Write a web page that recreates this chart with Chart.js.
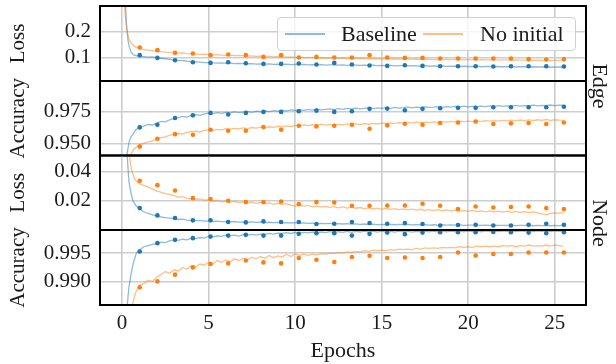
<!DOCTYPE html>
<html><head><meta charset="utf-8">
<script src="https://cdn.jsdelivr.net/npm/chart.js@4.4.0/dist/chart.umd.min.js"></script>
<style>
html,body{margin:0;padding:0;background:#fff;}
#wrap{position:relative;width:616px;height:364px;overflow:hidden;font-family:'Liberation Serif',serif;color:#1a1a1a;}
#wrap canvas{position:absolute;left:0;top:0;}
.side{position:absolute;font-size:22px;line-height:22px;white-space:nowrap;transform:translate(-50%,-50%) rotate(90deg);}
#legend{position:absolute;left:277px;top:17px;width:299px;height:34px;border:1px solid #d0d0d0;border-radius:4px;background:rgba(255,255,255,0.8);box-sizing:border-box;font-size:22px;}
#legend .ln{position:absolute;height:0;width:40px;top:15px;border-top:2px solid;}
#legend .tx{position:absolute;top:3px;line-height:26px;white-space:nowrap;}
</style></head>
<body><div id="wrap">
<canvas id="c1" width="616" height="364"></canvas>
<canvas id="c2" width="616" height="364"></canvas>
<canvas id="c3" width="616" height="364"></canvas>
<canvas id="c4" width="616" height="364"></canvas>
<div id="legend">
  <div class="ln" style="left:7px;border-color:#8fbbda"></div>
  <div class="tx" style="left:63px">Baseline</div>
  <div class="ln" style="left:145px;border-color:#ffbf87"></div>
  <div class="tx" style="left:202px">No initial</div>
</div>
<div class="side" style="left:600px;top:86px">Edge</div>
<div class="side" style="left:600px;top:223px">Node</div>
</div>
<script>
// ---------- data ----------
const TRAIN_X = [0.05,0.1,0.15,0.2,0.25,0.3,0.35,0.4,0.5,0.6,0.7,0.8,0.9,1.0,
1.25,1.5,1.75,2.0,2.25,2.5,2.75,3.0,3.25,3.5,3.75,4.0,4.25,4.5,4.75,5.0,
5.25,5.5,5.75,6.0,6.25,6.5,6.75,7.0,7.25,7.5,7.75,8.0,8.25,8.5,8.75,9.0,
9.25,9.5,9.75,10.0,10.25,10.5,10.75,11.0,11.25,11.5,11.75,12.0,12.25,12.5,12.75,13.0,
13.25,13.5,13.75,14.0,14.25,14.5,14.75,15.0,15.25,15.5,15.75,16.0,16.25,16.5,16.75,17.0,
17.25,17.5,17.75,18.0,18.25,18.5,18.75,19.0,19.25,19.5,19.75,20.0,20.25,20.5,20.75,21.0,
21.25,21.5,21.75,22.0,22.25,22.5,22.75,23.0,23.25,23.5,23.75,24.0,24.25,24.5,24.75,25.0,25.25,25.5];

const VAL_X = [1.02,2.04,3.06,4.09,5.11,6.13,7.15,8.17,9.19,10.21,11.23,12.26,13.28,14.3,15.32,
16.34,17.36,18.38,19.41,20.43,21.45,22.47,23.49,24.51,25.53];

const EPOCH_TICKS = [0,5,10,15,20,25];

// Edge loss
const EDGE_LOSS_BASE_TRAIN = [0.62,0.48,0.37,0.30,0.235,0.194,0.163,0.146,0.124,0.114,0.109,0.107,0.105,0.104,
0.103,0.101,0.102,0.099, 0.097,0.095,0.093,0.091, 0.089,0.088,0.086,0.084, 0.083,0.082,0.080,0.080,
0.079,0.078,0.079,0.077, 0.078,0.076,0.077,0.076, 0.075,0.076,0.074,0.075, 0.074,0.075,0.073,0.074,
0.073,0.074,0.072,0.073, 0.072,0.073,0.071,0.072, 0.071,0.072,0.070,0.071, 0.071,0.070,0.071,0.069,
0.070,0.070,0.069,0.070, 0.069,0.070,0.068,0.069, 0.068,0.069,0.067,0.068, 0.068,0.067,0.068,0.067,
0.066,0.068,0.066,0.067, 0.066,0.067,0.065,0.066, 0.066,0.065,0.066,0.065, 0.065,0.066,0.064,0.065,
0.065,0.064,0.065,0.064, 0.064,0.065,0.063,0.064, 0.064,0.063,0.064,0.063, 0.063,0.064,0.062,0.063,
0.063,0.062];
const EDGE_LOSS_NOINIT_TRAIN = [0.50,0.36,0.29,0.25,0.22,0.20,0.185,0.172,0.158,0.150,0.144,0.140,0.137,0.134,
0.131,0.128,0.127,0.124, 0.123,0.121,0.120,0.118, 0.117,0.118,0.115,0.114, 0.114,0.112,0.113,0.111,
0.110,0.111,0.109,0.108, 0.108,0.107,0.108,0.106, 0.105,0.106,0.104,0.105, 0.103,0.104,0.102,0.103,
0.102,0.101,0.102,0.100, 0.101,0.099,0.100,0.099, 0.098,0.099,0.097,0.098, 0.098,0.097,0.098,0.096,
0.097,0.096,0.097,0.096, 0.095,0.096,0.094,0.095, 0.095,0.094,0.095,0.094, 0.094,0.095,0.093,0.094,
0.093,0.094,0.093,0.092, 0.093,0.092,0.093,0.092, 0.092,0.093,0.091,0.092, 0.092,0.091,0.092,0.091,
0.091,0.092,0.090,0.091, 0.091,0.090,0.091,0.090, 0.090,0.091,0.089,0.090, 0.089,0.090,0.088,0.089,
0.089,0.090];
const EDGE_LOSS_BASE_VAL = [0.109,0.0984,0.0895,0.0816,0.079,0.0816,0.0777,0.075,0.075,0.0766,0.0727,0.079,0.0727,
0.0688,0.0672,0.070,0.0672,0.066,0.066,0.066,0.0648,0.066,0.066,0.066,0.0648];
const EDGE_LOSS_NOINIT_VAL = [0.139,0.1285,0.118,0.1156,0.109,0.1117,0.109,0.1023,0.109,0.100,0.1023,0.100,0.100,
0.109,0.100,0.0984,0.0984,0.096,0.096,0.096,0.096,0.096,0.0934,0.092,0.0934];

// Edge accuracy
const EDGE_ACC_BASE_TRAIN = [0.70,0.80,0.87,0.915,0.936,0.943,0.947,0.951,0.955,0.957,0.959,0.961,0.962,0.963,
0.9638,0.9651,0.9647,0.9662, 0.9676,0.9671,0.9688,0.9699, 0.9705,0.9714,0.9709,0.9722, 0.9728,0.9722,0.9735,0.9740,
0.9736,0.9744,0.9739,0.9746, 0.9743,0.9750,0.9745,0.9748, 0.9753,0.9747,0.9755,0.9751, 0.9757,0.9752,0.9760,0.9756,
0.9762,0.9758,0.9766,0.9761, 0.9767,0.9762,0.9770,0.9764, 0.9771,0.9766,0.9769,0.9774, 0.9768,0.9775,0.9770,0.9777,
0.9773,0.9779,0.9774,0.9778, 0.9782,0.9776,0.9781,0.9777, 0.9783,0.9778,0.9785,0.9780, 0.9784,0.9789,0.9782,0.9787,
0.9783,0.9790,0.9785,0.9788, 0.9792,0.9786,0.9791,0.9788, 0.9793,0.9788,0.9795,0.9790, 0.9794,0.9791,0.9796,0.9792,
0.9797,0.9793,0.9799,0.9794, 0.9798,0.9795,0.9801,0.9796, 0.9800,0.9797,0.9803,0.9798, 0.9802,0.9799,0.9804,0.9800,
0.9803,0.9801];
const EDGE_ACC_NOINIT_TRAIN = [0.60,0.70,0.78,0.84,0.88,0.905,0.92,0.932,0.9415,0.944,0.9458,0.9470,0.9482,0.9490,
0.9503,0.9515,0.9522,0.9536, 0.9548,0.9553,0.9567,0.9574, 0.9580,0.9576,0.9590,0.9594, 0.9598,0.9592,0.9604,0.9609,
0.9604,0.9613,0.9608,0.9618, 0.9614,0.9621,0.9616,0.9624, 0.9619,0.9627,0.9622,0.9630, 0.9626,0.9633,0.9628,0.9637,
0.9632,0.9640,0.9635,0.9644, 0.9640,0.9647,0.9642,0.9649, 0.9644,0.9651,0.9646,0.9650, 0.9646,0.9653,0.9648,0.9655,
0.9650,0.9656,0.9651,0.9658, 0.9653,0.9660,0.9655,0.9662, 0.9657,0.9663,0.9659,0.9665, 0.9661,0.9667,0.9662,0.9669,
0.9664,0.9670,0.9666,0.9672, 0.9668,0.9674,0.9669,0.9675, 0.9671,0.9677,0.9673,0.9678, 0.9674,0.9680,0.9675,0.9681,
0.9677,0.9682,0.9678,0.9684, 0.9679,0.9685,0.9680,0.9686, 0.9681,0.9687,0.9682,0.9688, 0.9683,0.9690,0.9684,0.9688,
0.9685,0.9683];
const EDGE_ACC_BASE_VAL = [0.9628,0.9649,0.9702,0.9723,0.9742,0.9729,0.9742,0.975,0.975,0.9755,0.976,0.975,0.9755,
0.9774,0.9776,0.9763,0.9774,0.9779,0.9782,0.9782,0.9787,0.9787,0.9787,0.9787,0.979];
const EDGE_ACC_NOINIT_VAL = [0.9477,0.9538,0.9575,0.957,0.961,0.9602,0.9602,0.9631,0.961,0.9641,0.9636,0.9641,0.9649,
0.9617,0.9644,0.9657,0.9649,0.9663,0.9667,0.9675,0.9655,0.966,0.9663,0.9655,0.9667];

// Node loss
const NODE_LOSS_BASE_TRAIN = [0.20,0.14,0.10,0.075,0.060,0.050,0.041,0.033,0.026,0.021,0.0185,0.0168,0.0156,0.0146,
0.0125,0.0113,0.0104,0.0096, 0.0089,0.0084,0.0081,0.0077, 0.0072,0.0074,0.0068,0.0066, 0.0064,0.0066,0.0061,0.0062,
0.0059,0.0061,0.0057,0.0058, 0.0056,0.0058,0.0054,0.0056, 0.0053,0.0055,0.0052,0.0054, 0.0051,0.0053,0.0050,0.0052,
0.0049,0.0051,0.0048,0.0050, 0.0047,0.0049,0.0045,0.0047, 0.0044,0.0046,0.0043,0.0045, 0.0042,0.0044,0.0041,0.0043,
0.0040,0.0042,0.0039,0.0041, 0.0039,0.0040,0.0037,0.0039, 0.0037,0.0039,0.0036,0.0038, 0.0036,0.0038,0.0035,0.0037,
0.0035,0.0036,0.0034,0.0036, 0.0034,0.0036,0.0033,0.0035, 0.0033,0.0035,0.0032,0.0034, 0.0033,0.0034,0.0031,0.0033,
0.0032,0.0034,0.0031,0.0032, 0.0031,0.0033,0.0030,0.0032, 0.0031,0.0032,0.0029,0.0031, 0.0030,0.0032,0.0029,0.0031,
0.0030,0.0031];
const NODE_LOSS_NOINIT_TRAIN = [0.30,0.20,0.14,0.10,0.080,0.066,0.058,0.053,0.044,0.039,0.0355,0.0338,0.0325,0.0318,
0.0305,0.0293,0.0282,0.0266, 0.0260,0.0249,0.0243,0.0236, 0.0223,0.0228,0.0216,0.0213, 0.0209,0.0213,0.0204,0.0207,
0.0197,0.0202,0.0193,0.0198, 0.0191,0.0196,0.0187,0.0192, 0.0185,0.0191,0.0182,0.0188, 0.0180,0.0186,0.0176,0.0183,
0.0175,0.0181,0.0170,0.0164, 0.0170,0.0163,0.0168,0.0159, 0.0164,0.0157,0.0162,0.0155, 0.0160,0.0152,0.0158,0.0150,
0.0156,0.0149,0.0154,0.0147, 0.0152,0.0144,0.0150,0.0142, 0.0148,0.0141,0.0146,0.0139, 0.0145,0.0138,0.0143,0.0136,
0.0142,0.0135,0.0140,0.0133, 0.0139,0.0132,0.0137,0.0130, 0.0136,0.0129,0.0134,0.0127, 0.0134,0.0126,0.0131,0.0124,
0.0131,0.0124,0.0129,0.0122, 0.0129,0.0121,0.0127,0.0120, 0.0126,0.0119,0.0124,0.0117, 0.0110,0.0105,0.0112,0.0118,
0.0114,0.0120];
const NODE_LOSS_BASE_VAL = [0.0150,0.0100,0.0082,0.0066,0.0066,0.0055,0.0052,0.0059,0.0055,0.0055,0.0041,0.0043,0.0055,
0.0048,0.0043,0.0048,0.0041,0.0031,0.0034,0.0036,0.0031,0.0031,0.0036,0.0043,0.0036];
const NODE_LOSS_NOINIT_VAL = [0.0337,0.0307,0.027,0.0218,0.0212,0.020,0.0191,0.0191,0.0195,0.0177,0.0191,0.0188,0.0166,
0.0166,0.0168,0.0168,0.018,0.0166,0.0143,0.0161,0.0154,0.0157,0.0161,0.015,0.0143];

// Node accuracy
const NODE_ACC_BASE_TRAIN = [0.90,0.94,0.96,0.975,0.983,0.986,0.9877,0.9892,0.9910,0.9926,0.9938,0.9948,0.9953,0.9955,
0.9961,0.9963,0.9965,0.9967, 0.9969,0.9968,0.9971,0.9973, 0.9972,0.9974,0.9973,0.9976, 0.9975,0.9977,0.9976,0.9979,
0.9978,0.9980,0.9979,0.9981, 0.9980,0.9981,0.99795,0.9982, 0.9981,0.99825,0.9981,0.9983, 0.99825,0.9984,0.9983,0.99845,
0.9984,0.99855,0.9984,0.9986, 0.99845,0.9986,0.99850,0.99865, 0.9985,0.99865,0.99855,0.9987, 0.99855,0.9987,0.9986,0.99875,
0.9986,0.99875,0.99865,0.9988, 0.99865,0.9988,0.99865,0.9988, 0.99865,0.99878,0.99862,0.9988, 0.99868,0.9988,0.99865,0.99878,
0.9987,0.99882,0.99866,0.9988, 0.9987,0.99884,0.99868,0.99882, 0.99872,0.99885,0.9987,0.99883, 0.99873,0.99886,0.9987,0.99884,
0.99874,0.99887,0.99872,0.99885, 0.99875,0.99888,0.99872,0.99886, 0.99876,0.99888,0.99873,0.99886, 0.99876,0.99889,0.99874,0.99887,
0.99877,0.99886];
const NODE_ACC_NOINIT_TRAIN = [0.90,0.93,0.95,0.962,0.970,0.975,0.978,0.981,0.9838,0.9858,0.9874,0.9883,0.9889,0.9894,
0.9897,0.9903,0.9901,0.9908, 0.9913,0.9918,0.9915,0.9921, 0.9919,0.9925,0.9922,0.9928, 0.9926,0.9931,0.9929,0.9934,
0.9931,0.9937,0.9934,0.9938, 0.9935,0.9940,0.9937,0.9941, 0.9938,0.9943,0.9940,0.9944, 0.9941,0.9946,0.9942,0.9945,
0.9943,0.9948,0.9944,0.9949, 0.9946,0.9948,0.9946,0.9948, 0.9947,0.9949,0.9948,0.9950, 0.9949,0.9951,0.9950,0.9952,
0.9951,0.9953,0.9952,0.9954, 0.9953,0.9955,0.9954,0.9955, 0.9954,0.9956,0.9955,0.9957, 0.9956,0.9957,0.9956,0.9958,
0.9957,0.9959,0.9958,0.9959, 0.9958,0.9960,0.9959,0.9960, 0.9959,0.9961,0.9960,0.9961, 0.9960,0.9962,0.9961,0.9962,
0.9961,0.9962,0.9961,0.9963, 0.9962,0.9963,0.9961,0.9963, 0.9962,0.9964,0.9962,0.9963, 0.9962,0.9964,0.9962,0.9964,
0.9963,0.9962];
const NODE_ACC_BASE_VAL = [0.99528,0.99672,0.99729,0.99759,0.99786,0.99803,0.99816,0.99803,0.99803,0.99833,0.99845,
0.99845,0.99803,0.99833,0.99855,0.99828,0.99855,0.99862,0.99862,0.99862,0.99867,0.99862,0.99855,0.99845,0.99862];
const NODE_ACC_NOINIT_VAL = [0.98907,0.9901,0.99126,0.99252,0.9931,0.99321,0.99372,0.99338,0.99321,0.99414,0.99384,
0.99345,0.99431,0.99453,0.99414,0.99424,0.99414,0.99431,0.9951,0.99459,0.99483,0.99483,0.9951,0.9951,0.9951];

// y tick values and labels
const EDGE_LOSS_TICKS = [0.1, 0.2];       const EDGE_LOSS_LABELS = ['0.1','0.2'];
const EDGE_ACC_TICKS = [0.95, 0.975];     const EDGE_ACC_LABELS = ['0.950','0.975'];
const NODE_LOSS_TICKS = [0.02, 0.04];     const NODE_LOSS_LABELS = ['0.02','0.04'];
const NODE_ACC_TICKS = [0.99, 0.995];     const NODE_ACC_LABELS = ['0.990','0.995'];

// ---------- styling / layout ----------
const FONT = "'Liberation Serif', serif";
const TXT = '#1a1a1a';
const GRID = '#cdcdcd';
const BLUE = '#1f77b4', ORANGE = '#ff7f0e';
const BLUE_L = 'rgba(31,119,180,0.5)', ORANGE_L = 'rgba(255,127,14,0.5)';
const X_MIN = -1.2765, X_MAX = 26.8065;
const H = 364;

const panels = [
  {id:'c1', title:'Loss', base:EDGE_LOSS_BASE_TRAIN, noinit:EDGE_LOSS_NOINIT_TRAIN, baseVal:EDGE_LOSS_BASE_VAL, noinitVal:EDGE_LOSS_NOINIT_VAL,
   ticks:EDGE_LOSS_TICKS, labels:EDGE_LOSS_LABELS, min:0.0086, max:0.30, top:6, bottom:81},
  {id:'c2', title:'Accuracy', base:EDGE_ACC_BASE_TRAIN, noinit:EDGE_ACC_NOINIT_TRAIN, baseVal:EDGE_ACC_BASE_VAL, noinitVal:EDGE_ACC_NOINIT_VAL,
   ticks:EDGE_ACC_TICKS, labels:EDGE_ACC_LABELS, min:0.9407, max:0.9993, top:81, bottom:155.5},
  {id:'c3', title:'Loss', base:NODE_LOSS_BASE_TRAIN, noinit:NODE_LOSS_NOINIT_TRAIN, baseVal:NODE_LOSS_BASE_VAL, noinitVal:NODE_LOSS_NOINIT_VAL,
   ticks:NODE_LOSS_TICKS, labels:NODE_LOSS_LABELS, min:0.0, max:0.051, top:155.5, bottom:230},
  {id:'c4', title:'Accuracy', base:NODE_ACC_BASE_TRAIN, noinit:NODE_ACC_NOINIT_TRAIN, baseVal:NODE_ACC_BASE_VAL, noinitVal:NODE_ACC_NOINIT_VAL,
   ticks:NODE_ACC_TICKS, labels:NODE_ACC_LABELS, min:0.986, max:0.999, top:230, bottom:305}
];

const pts = (xs, ys) => ys.map((y, i) => ({x: xs[i], y}));

const framePlugin = {
  id: 'frame',
  afterDatasetsDraw(chart) {
    const a = chart.chartArea, c = chart.ctx;
    c.save();
    c.strokeStyle = '#000';
    c.lineWidth = 2;
    c.strokeRect(a.left, a.top, a.right - a.left, a.bottom - a.top);
    c.restore();
  }
};

const noPad = s => { s.paddingTop = 0; s.paddingBottom = 0; s.paddingLeft = 0; s.paddingRight = 0; };

panels.forEach((p, idx) => {
  const isBottom = idx === panels.length - 1;
  new Chart(document.getElementById(p.id), {
    type: 'scatter',
    data: {datasets: [
      {label:'Baseline', data: pts(TRAIN_X, p.base), showLine:true, borderColor:BLUE_L, borderWidth:1.3, pointRadius:0, order:4},
      {label:'No initial', data: pts(TRAIN_X, p.noinit), showLine:true, borderColor:ORANGE_L, borderWidth:1.3, pointRadius:0, order:3},
      {label:'Baseline val', data: pts(VAL_X, p.baseVal), showLine:false, backgroundColor:BLUE, borderWidth:0, pointRadius:2.3, order:2},
      {label:'No initial val', data: pts(VAL_X, p.noinitVal), showLine:false, backgroundColor:ORANGE, borderWidth:0, pointRadius:2.3, order:1}
    ]},
    options: {
      responsive:false, animation:false, devicePixelRatio:1,
      layout:{padding:{top:p.top, bottom: isBottom ? 0 : H - p.bottom, left:0, right:30}},
      plugins:{legend:{display:false}, tooltip:{enabled:false}},
      scales:{
        x:{type:'linear', min:X_MIN, max:X_MAX,
           afterBuildTicks: s => { s.ticks = EPOCH_TICKS.map(v => ({value:v})); },
           grid:{color:GRID, lineWidth:1.6, drawTicks:false},
           border:{display:false},
           ticks:{display:isBottom, padding:6, color:TXT, font:{family:FONT, size:21}, callback: v => String(v)},
           title:{display:isBottom, text:'Epochs', color:TXT, font:{family:FONT, size:22}, padding:{top:0, bottom:0}},
           afterFit: s => { s.height = isBottom ? H - p.bottom : 0; noPad(s); }
        },
        y:{type:'linear', min:p.min, max:p.max,
           afterBuildTicks: s => { s.ticks = p.ticks.map(v => ({value:v})); },
           grid:{color:GRID, lineWidth:1.6, drawTicks:false},
           border:{display:false},
           ticks:{padding:9, color:TXT, font:{family:FONT, size:21}, callback: (v, i) => p.labels[i]},
           title:{display:true, text:p.title, color:TXT, font:{family:FONT, size:21}, padding:{top:5.5, bottom:0}},
           afterFit: s => { s.width = 100; noPad(s); }
        }
      }
    },
    plugins:[framePlugin]
  });
});
</script>
</body></html>
